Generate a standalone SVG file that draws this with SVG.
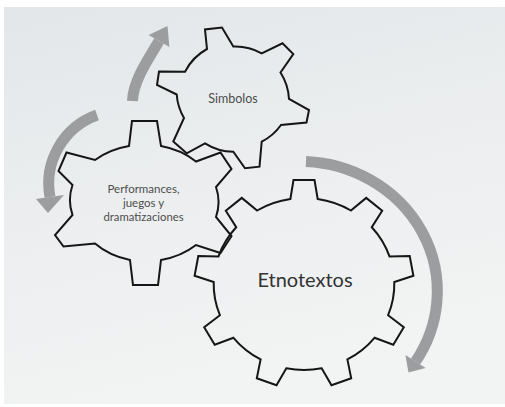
<svg xmlns="http://www.w3.org/2000/svg" width="505" height="407" viewBox="0 0 505 407">
  <defs>
    <linearGradient id="bg" x1="0" y1="0" x2="0.3" y2="1">
      <stop offset="0" stop-color="#e3e7e9"/>
      <stop offset="0.6" stop-color="#edeff0"/>
      <stop offset="1" stop-color="#f2f3f3"/>
    </linearGradient>
  </defs>
  <style>
    .gear { fill: none; stroke: #161616; stroke-width: 2; stroke-linejoin: miter; }
    .arc { fill: none; stroke: #9b9d9e; stroke-width: 11; stroke-linecap: butt; }
    .head { fill: #9b9d9e; stroke: none; }
    .lbl { font-family: Lato, "Open Sans", "Liberation Sans", sans-serif; fill: #4d4d4d; text-anchor: middle; }
  </style>
  <rect x="0" y="0" width="505" height="407" fill="#ffffff"/>
  <rect x="4" y="7" width="501" height="397" fill="url(#bg)"/>

  <g id="connectors">
    <path class="arc" d="M132.5,101 C133,80 151.5,54 159,41"/>
    <polygon class="head" points="148.6,35 167.5,26 169.4,47"/>
    <path class="arc" d="M97,115 A73,73 0 0 0 50,197"/>
    <polygon class="head" points="36,199 64,195 48,213"/>
    <path class="arc" d="M306,161.5 A138,130 0 0 1 415.5,361.5"/>
    <polygon class="head" points="405.4,355 425.6,368 408.5,372.4"/>
  </g>

  <g id="gear-simbolos">
    <path class="gear" d="M207,49 L205,29.5 L222,27.5 L233.3,46.5 A54,54 0 0 1 261.7,53.3 L282.5,43.3 L293.3,54 L280.5,72.5 A54,54 0 0 1 289,99 L309,110 L306.5,122.5 L281,125 A54,54 0 0 1 261.7,141.7 L259.5,166.7 L245,168.3 L233.3,151.7 A54,54 0 0 1 205,143.3 L186.7,153.3 L173.3,141.5 L184,118 A54,54 0 0 1 176.7,94.5 L157,85 L159,71.5 L185,71.7 A54,54 0 0 1 207,49 Z"/>
    <text class="lbl" x="233" y="103" font-size="12.5">Simbolos</text>
  </g>

  <g id="gear-performances">
    <path class="gear" d="M129,146 L132,121 L157,121 L161,146 A72,57 0 0 1 196,161.5 L220.5,152.5 L231.5,169 L216,187 A72,57 0 0 1 216,217 L231.5,236 L220.5,253 L196,245 A72,57 0 0 1 161,260 L158,285 L133,285 L130,260 A72,57 0 0 1 95,243.5 L63.5,246.5 L55,235 L72.5,215 A72,57 0 0 1 72.5,185 L58.5,171 L66.5,152.5 L95,160 A72,57 0 0 1 129,146 Z"/>
    <text class="lbl" x="143.5" y="193" font-size="11.5">Performances,</text>
    <text class="lbl" x="143.5" y="207" font-size="11.5">juegos y</text>
    <text class="lbl" x="143.5" y="221" font-size="11.3">dramatizaciones</text>
  </g>

  <g id="gear-etnotextos">
    <path class="gear" d="M290.4,199 L293.5,180 L314.5,180 L317.7,199 A89,85 0 0 1 350.9,210.5 L366.2,197.9 L382.2,210.8 L371.8,227.2 A89,85 0 0 1 389.5,256.4 L409.7,256.1 L413.4,275.8 L394.3,282 A89,85 0 0 1 388.1,315.2 L403.8,327.3 L393.3,344.7 L374.5,337.8 A89,85 0 0 1 347.4,359.4 L351.2,378.3 L331.5,385.2 L321.7,368.3 A89,85 0 0 1 286.3,368.3 L276.5,385.2 L256.8,378.3 L260.6,359.4 A89,85 0 0 1 233.5,337.8 L214.7,344.7 L204.2,327.3 L219.9,315.2 A89,85 0 0 1 213.7,282 L194.6,275.8 L198.3,256.1 L218.5,256.4 A89,85 0 0 1 236.2,227.2 L225.8,210.8 L241.8,197.9 L257.1,210.5 A89,85 0 0 1 290.4,199 Z"/>
    <text class="lbl" x="305" y="287" font-size="20" style="fill:#333333">Etnotextos</text>
  </g>
</svg>
